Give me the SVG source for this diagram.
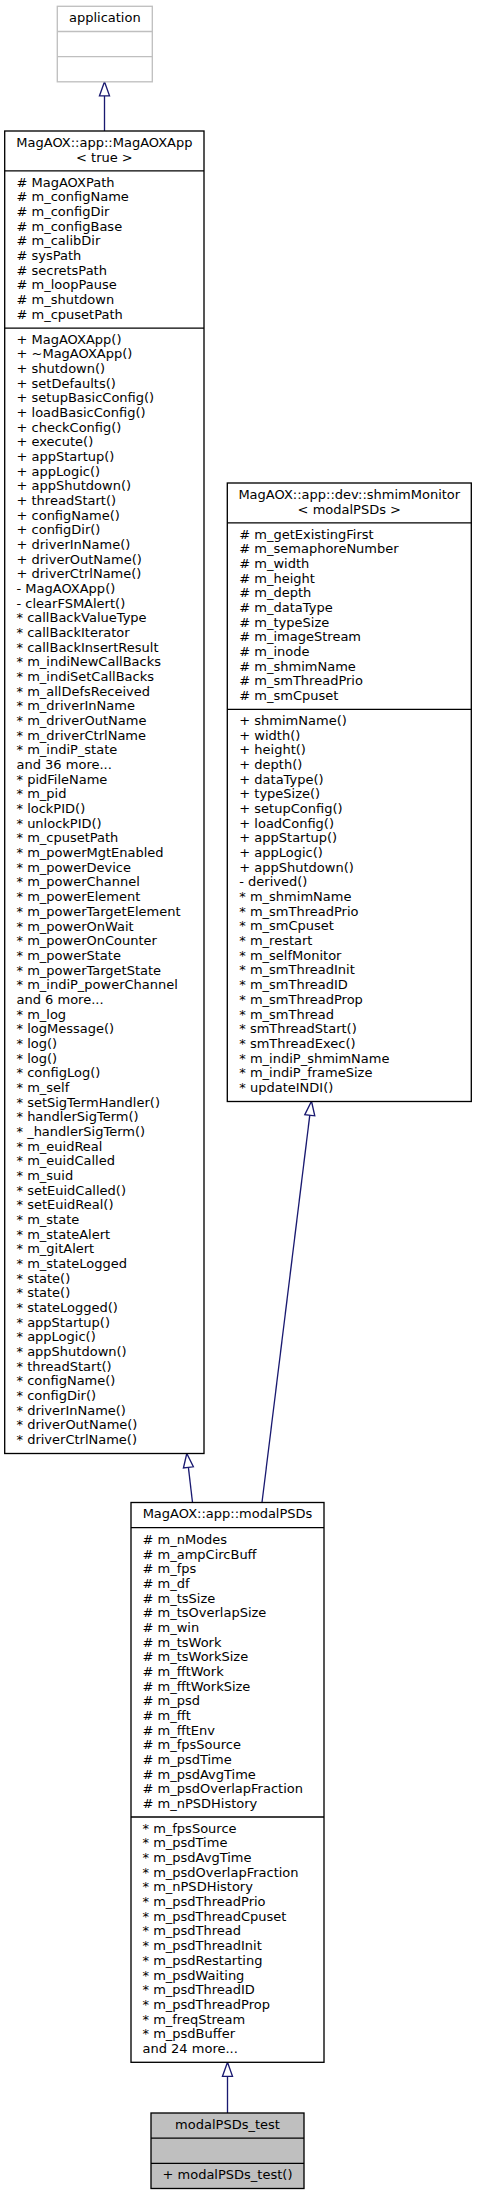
<svg xmlns="http://www.w3.org/2000/svg" width="477" height="2195" viewBox="0 0 477 2195">
<style>
.bx{fill:#fff;stroke:#000;stroke-width:1.33}
.gx{fill:#fff;stroke:#bfbfbf;stroke-width:1.33}
.cx{fill:#bfbfbf;stroke:#000;stroke-width:1.33}
.dv{stroke:#000;stroke-width:1.33}
.gdv{stroke:#bfbfbf;stroke-width:1.33}
.t{font-family:"DejaVu Sans","Liberation Sans",sans-serif;font-size:13px;fill:#000}
.c{text-anchor:middle}
.e{fill:none;stroke:#191970;stroke-width:1.33;marker-end:url(#inh)}
</style>
<defs>
<marker id="inh" viewBox="-1 -1 16 12" refX="0" refY="5" markerWidth="16" markerHeight="12" markerUnits="userSpaceOnUse" orient="auto" overflow="visible">
<path d="M0,0 L14,5 L0,10 Z" fill="#fff" stroke="#191970" stroke-width="1.33"/>
</marker>
</defs>
<rect width="477" height="2195" fill="#fff"/>

<g id="connectors">
<path class="e" d="M104.5,131 L104.5,95.8"/>
<path class="e" d="M192.5,1502.5 L188.4,1467.4"/>
<path class="e" d="M262,1502.5 L309.8,1115.2"/>
<path class="e" d="M227.5,2113 L227.5,2076.3"/>
</g>

<g id="application">
<rect class="gx" x="57.3" y="6.3" width="95" height="75.5"/>
<line class="gdv" x1="57.3" y1="31.5" x2="152.3" y2="31.5"/>
<line class="gdv" x1="57.3" y1="56.6" x2="152.3" y2="56.6"/>
<text class="t c" x="104.8" y="22">application</text>
</g>

<g id="MagAOXApp">
<rect class="bx" x="4.7" y="131" width="199.3" height="1322.5"/>
<line class="dv" x1="4.7" y1="170.8" x2="204" y2="170.8"/>
<line class="dv" x1="4.7" y1="328.1" x2="204" y2="328.1"/>
<text class="t c" x="104.4" y="147">MagAOX::app::MagAOXApp<tspan x="104.4" dy="14.67">&lt; true &gt;</tspan></text>
<text class="t" x="16.5" y="186.5"><tspan x="16.5" dy="0"># MagAOXPath</tspan><tspan x="16.5" dy="14.67"># m_configName</tspan><tspan x="16.5" dy="14.67"># m_configDir</tspan><tspan x="16.5" dy="14.67"># m_configBase</tspan><tspan x="16.5" dy="14.67"># m_calibDir</tspan><tspan x="16.5" dy="14.67"># sysPath</tspan><tspan x="16.5" dy="14.67"># secretsPath</tspan><tspan x="16.5" dy="14.67"># m_loopPause</tspan><tspan x="16.5" dy="14.67"># m_shutdown</tspan><tspan x="16.5" dy="14.67"># m_cpusetPath</tspan></text>
<text class="t" x="16.5" y="343.7"><tspan x="16.5" dy="0">+ MagAOXApp()</tspan><tspan x="16.5" dy="14.67">+ ~MagAOXApp()</tspan><tspan x="16.5" dy="14.67">+ shutdown()</tspan><tspan x="16.5" dy="14.67">+ setDefaults()</tspan><tspan x="16.5" dy="14.67">+ setupBasicConfig()</tspan><tspan x="16.5" dy="14.67">+ loadBasicConfig()</tspan><tspan x="16.5" dy="14.67">+ checkConfig()</tspan><tspan x="16.5" dy="14.67">+ execute()</tspan><tspan x="16.5" dy="14.67">+ appStartup()</tspan><tspan x="16.5" dy="14.67">+ appLogic()</tspan><tspan x="16.5" dy="14.67">+ appShutdown()</tspan><tspan x="16.5" dy="14.67">+ threadStart()</tspan><tspan x="16.5" dy="14.67">+ configName()</tspan><tspan x="16.5" dy="14.67">+ configDir()</tspan><tspan x="16.5" dy="14.67">+ driverInName()</tspan><tspan x="16.5" dy="14.67">+ driverOutName()</tspan><tspan x="16.5" dy="14.67">+ driverCtrlName()</tspan><tspan x="16.5" dy="14.67">- MagAOXApp()</tspan><tspan x="16.5" dy="14.67">- clearFSMAlert()</tspan><tspan x="16.5" dy="14.67">* callBackValueType</tspan><tspan x="16.5" dy="14.67">* callBackIterator</tspan><tspan x="16.5" dy="14.67">* callBackInsertResult</tspan><tspan x="16.5" dy="14.67">* m_indiNewCallBacks</tspan><tspan x="16.5" dy="14.67">* m_indiSetCallBacks</tspan><tspan x="16.5" dy="14.67">* m_allDefsReceived</tspan><tspan x="16.5" dy="14.67">* m_driverInName</tspan><tspan x="16.5" dy="14.67">* m_driverOutName</tspan><tspan x="16.5" dy="14.67">* m_driverCtrlName</tspan><tspan x="16.5" dy="14.67">* m_indiP_state</tspan><tspan x="16.5" dy="14.67">and 36 more...</tspan><tspan x="16.5" dy="14.67">* pidFileName</tspan><tspan x="16.5" dy="14.67">* m_pid</tspan><tspan x="16.5" dy="14.67">* lockPID()</tspan><tspan x="16.5" dy="14.67">* unlockPID()</tspan><tspan x="16.5" dy="14.67">* m_cpusetPath</tspan><tspan x="16.5" dy="14.67">* m_powerMgtEnabled</tspan><tspan x="16.5" dy="14.67">* m_powerDevice</tspan><tspan x="16.5" dy="14.67">* m_powerChannel</tspan><tspan x="16.5" dy="14.67">* m_powerElement</tspan><tspan x="16.5" dy="14.67">* m_powerTargetElement</tspan><tspan x="16.5" dy="14.67">* m_powerOnWait</tspan><tspan x="16.5" dy="14.67">* m_powerOnCounter</tspan><tspan x="16.5" dy="14.67">* m_powerState</tspan><tspan x="16.5" dy="14.67">* m_powerTargetState</tspan><tspan x="16.5" dy="14.67">* m_indiP_powerChannel</tspan><tspan x="16.5" dy="14.67">and 6 more...</tspan><tspan x="16.5" dy="14.67">* m_log</tspan><tspan x="16.5" dy="14.67">* logMessage()</tspan><tspan x="16.5" dy="14.67">* log()</tspan><tspan x="16.5" dy="14.67">* log()</tspan><tspan x="16.5" dy="14.67">* configLog()</tspan><tspan x="16.5" dy="14.67">* m_self</tspan><tspan x="16.5" dy="14.67">* setSigTermHandler()</tspan><tspan x="16.5" dy="14.67">* handlerSigTerm()</tspan><tspan x="16.5" dy="14.67">* _handlerSigTerm()</tspan><tspan x="16.5" dy="14.67">* m_euidReal</tspan><tspan x="16.5" dy="14.67">* m_euidCalled</tspan><tspan x="16.5" dy="14.67">* m_suid</tspan><tspan x="16.5" dy="14.67">* setEuidCalled()</tspan><tspan x="16.5" dy="14.67">* setEuidReal()</tspan><tspan x="16.5" dy="14.67">* m_state</tspan><tspan x="16.5" dy="14.67">* m_stateAlert</tspan><tspan x="16.5" dy="14.67">* m_gitAlert</tspan><tspan x="16.5" dy="14.67">* m_stateLogged</tspan><tspan x="16.5" dy="14.67">* state()</tspan><tspan x="16.5" dy="14.67">* state()</tspan><tspan x="16.5" dy="14.67">* stateLogged()</tspan><tspan x="16.5" dy="14.67">* appStartup()</tspan><tspan x="16.5" dy="14.67">* appLogic()</tspan><tspan x="16.5" dy="14.67">* appShutdown()</tspan><tspan x="16.5" dy="14.67">* threadStart()</tspan><tspan x="16.5" dy="14.67">* configName()</tspan><tspan x="16.5" dy="14.67">* configDir()</tspan><tspan x="16.5" dy="14.67">* driverInName()</tspan><tspan x="16.5" dy="14.67">* driverOutName()</tspan><tspan x="16.5" dy="14.67">* driverCtrlName()</tspan></text>
</g>

<g id="shmimMonitor">
<rect class="bx" x="227.3" y="483" width="244" height="618.5"/>
<line class="dv" x1="227.3" y1="522.8" x2="471.3" y2="522.8"/>
<line class="dv" x1="227.3" y1="709.4" x2="471.3" y2="709.4"/>
<text class="t c" x="349.3" y="499">MagAOX::app::dev::shmimMonitor<tspan x="349.3" dy="14.67">&lt; modalPSDs &gt;</tspan></text>
<text class="t" x="239.3" y="538.5"><tspan x="239.3" dy="0"># m_getExistingFirst</tspan><tspan x="239.3" dy="14.67"># m_semaphoreNumber</tspan><tspan x="239.3" dy="14.67"># m_width</tspan><tspan x="239.3" dy="14.67"># m_height</tspan><tspan x="239.3" dy="14.67"># m_depth</tspan><tspan x="239.3" dy="14.67"># m_dataType</tspan><tspan x="239.3" dy="14.67"># m_typeSize</tspan><tspan x="239.3" dy="14.67"># m_imageStream</tspan><tspan x="239.3" dy="14.67"># m_inode</tspan><tspan x="239.3" dy="14.67"># m_shmimName</tspan><tspan x="239.3" dy="14.67"># m_smThreadPrio</tspan><tspan x="239.3" dy="14.67"># m_smCpuset</tspan></text>
<text class="t" x="239.3" y="725.1"><tspan x="239.3" dy="0">+ shmimName()</tspan><tspan x="239.3" dy="14.67">+ width()</tspan><tspan x="239.3" dy="14.67">+ height()</tspan><tspan x="239.3" dy="14.67">+ depth()</tspan><tspan x="239.3" dy="14.67">+ dataType()</tspan><tspan x="239.3" dy="14.67">+ typeSize()</tspan><tspan x="239.3" dy="14.67">+ setupConfig()</tspan><tspan x="239.3" dy="14.67">+ loadConfig()</tspan><tspan x="239.3" dy="14.67">+ appStartup()</tspan><tspan x="239.3" dy="14.67">+ appLogic()</tspan><tspan x="239.3" dy="14.67">+ appShutdown()</tspan><tspan x="239.3" dy="14.67">- derived()</tspan><tspan x="239.3" dy="14.67">* m_shmimName</tspan><tspan x="239.3" dy="14.67">* m_smThreadPrio</tspan><tspan x="239.3" dy="14.67">* m_smCpuset</tspan><tspan x="239.3" dy="14.67">* m_restart</tspan><tspan x="239.3" dy="14.67">* m_selfMonitor</tspan><tspan x="239.3" dy="14.67">* m_smThreadInit</tspan><tspan x="239.3" dy="14.67">* m_smThreadID</tspan><tspan x="239.3" dy="14.67">* m_smThreadProp</tspan><tspan x="239.3" dy="14.67">* m_smThread</tspan><tspan x="239.3" dy="14.67">* smThreadStart()</tspan><tspan x="239.3" dy="14.67">* smThreadExec()</tspan><tspan x="239.3" dy="14.67">* m_indiP_shmimName</tspan><tspan x="239.3" dy="14.67">* m_indiP_frameSize</tspan><tspan x="239.3" dy="14.67">* updateINDI()</tspan></text>
</g>

<g id="modalPSDs">
<rect class="bx" x="131" y="1502.5" width="193" height="559.8"/>
<line class="dv" x1="131" y1="1527.7" x2="324" y2="1527.7"/>
<line class="dv" x1="131" y1="1817" x2="324" y2="1817"/>
<text class="t c" x="227.5" y="1518.2">MagAOX::app::modalPSDs</text>
<text class="t" x="142.5" y="1544"><tspan x="142.5" dy="0"># m_nModes</tspan><tspan x="142.5" dy="14.67"># m_ampCircBuff</tspan><tspan x="142.5" dy="14.67"># m_fps</tspan><tspan x="142.5" dy="14.67"># m_df</tspan><tspan x="142.5" dy="14.67"># m_tsSize</tspan><tspan x="142.5" dy="14.67"># m_tsOverlapSize</tspan><tspan x="142.5" dy="14.67"># m_win</tspan><tspan x="142.5" dy="14.67"># m_tsWork</tspan><tspan x="142.5" dy="14.67"># m_tsWorkSize</tspan><tspan x="142.5" dy="14.67"># m_fftWork</tspan><tspan x="142.5" dy="14.67"># m_fftWorkSize</tspan><tspan x="142.5" dy="14.67"># m_psd</tspan><tspan x="142.5" dy="14.67"># m_fft</tspan><tspan x="142.5" dy="14.67"># m_fftEnv</tspan><tspan x="142.5" dy="14.67"># m_fpsSource</tspan><tspan x="142.5" dy="14.67"># m_psdTime</tspan><tspan x="142.5" dy="14.67"># m_psdAvgTime</tspan><tspan x="142.5" dy="14.67"># m_psdOverlapFraction</tspan><tspan x="142.5" dy="14.67"># m_nPSDHistory</tspan></text>
<text class="t" x="142.5" y="1832.8"><tspan x="142.5" dy="0">* m_fpsSource</tspan><tspan x="142.5" dy="14.67">* m_psdTime</tspan><tspan x="142.5" dy="14.67">* m_psdAvgTime</tspan><tspan x="142.5" dy="14.67">* m_psdOverlapFraction</tspan><tspan x="142.5" dy="14.67">* m_nPSDHistory</tspan><tspan x="142.5" dy="14.67">* m_psdThreadPrio</tspan><tspan x="142.5" dy="14.67">* m_psdThreadCpuset</tspan><tspan x="142.5" dy="14.67">* m_psdThread</tspan><tspan x="142.5" dy="14.67">* m_psdThreadInit</tspan><tspan x="142.5" dy="14.67">* m_psdRestarting</tspan><tspan x="142.5" dy="14.67">* m_psdWaiting</tspan><tspan x="142.5" dy="14.67">* m_psdThreadID</tspan><tspan x="142.5" dy="14.67">* m_psdThreadProp</tspan><tspan x="142.5" dy="14.67">* m_freqStream</tspan><tspan x="142.5" dy="14.67">* m_psdBuffer</tspan><tspan x="142.5" dy="14.67">and 24 more...</tspan></text>
</g>

<g id="modalPSDs_test">
<rect class="cx" x="151" y="2113" width="153" height="75.5"/>
<line class="dv" x1="151" y1="2138.2" x2="304" y2="2138.2"/>
<line class="dv" x1="151" y1="2163.3" x2="304" y2="2163.3"/>
<text class="t c" x="227.5" y="2128.7">modalPSDs_test</text>
<text class="t" x="162.5" y="2179">+ modalPSDs_test()</text>
</g>
</svg>
